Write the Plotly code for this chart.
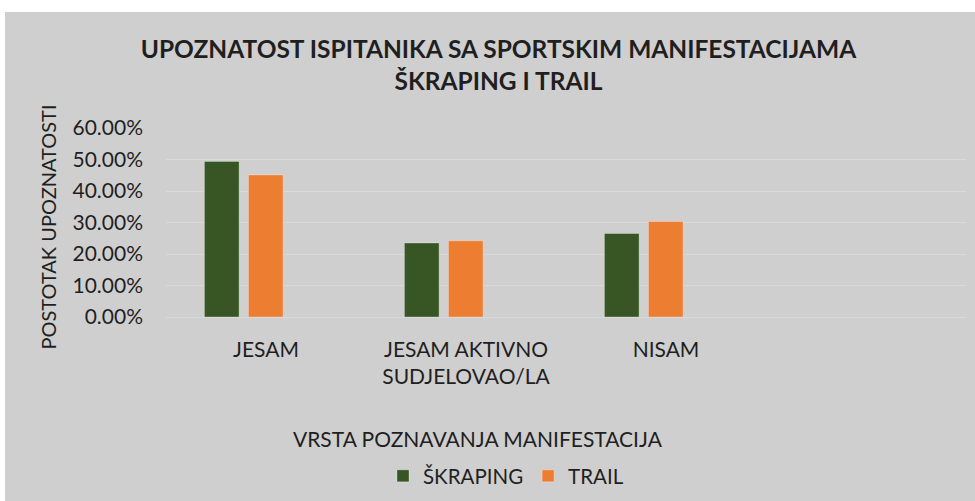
import plotly.graph_objects as go

# ---- data ----
categories = ["JESAM", "JESAM AKTIVNO<br>SUDJELOVAO/LA", "NISAM"]
series_names = ["ŠKRAPING", "TRAIL"]
skraping = [0.494, 0.235, 0.265]
trail = [0.451, 0.242, 0.303]
y_ticks = [0, 0.1, 0.2, 0.3, 0.4, 0.5, 0.6]

title_text = "UPOZNATOST ISPITANIKA SA SPORTSKIM MANIFESTACIJAMA<br>ŠKRAPING I TRAIL"
x_title = "VRSTA POZNAVANJA MANIFESTACIJA"
y_title = "POSTOTAK UPOZNATOSTI"

# ---- layout geometry ----
W, H = 975, 501
L, R, T, B = 166, 9, 128, 184
PW, PH = W - L - R, H - T - B

def px_x(x):
    return (x - L) / PW

def px_y(y):
    return (H - B - y) / PH

BG = "#D0CFD0"
GRID = "#DAD9DA"
GREEN = "#385623"
ORANGE = "#ED7D31"
TXT = "#1F1F1F"
FONT = "Lato"

fig = go.Figure()
fig.add_trace(go.Bar(
    name=series_names[0], x=categories, y=skraping,
    marker=dict(color=GREEN, line=dict(color="rgba(255,255,255,0.3)", width=1)),
    width=0.1735, offset=-0.308,
))
fig.add_trace(go.Bar(
    name=series_names[1], x=categories, y=trail,
    marker=dict(color=ORANGE, line=dict(color="rgba(255,255,255,0.3)", width=1)),
    width=0.1735, offset=-0.088,
))

fig.update_layout(
    width=W, height=H,
    margin=dict(l=L, r=R, t=T, b=B, pad=0, autoexpand=False),
    paper_bgcolor="white",
    plot_bgcolor=BG,
    font=dict(family=FONT, size=21, color=TXT),
    title=dict(
        text="<b>" + title_text + "</b>",
        font=dict(family=FONT, size=24.5, color=TXT),
        x=498.5 / W, xanchor="center", xref="container",
        y=1 - 58 / H, yanchor="top", yref="container",
    ),
    barmode="overlay",
    showlegend=True,
    legend=dict(
        orientation="h",
        x=px_x(506), xanchor="center",
        y=px_y(476), yanchor="middle",
        font=dict(family=FONT, size=20.5, color=TXT),
        bgcolor="rgba(0,0,0,0)",
        itemwidth=30,
    ),
    xaxis=dict(
        type="category", automargin=False,
        categoryorder="array", categoryarray=categories,
        range=[-0.5, 3.5],
        showgrid=False, showline=False, zeroline=False,
        ticks="", ticklabelstandoff=18,
        tickfont=dict(family=FONT, size=21, color=TXT),
    ),
    yaxis=dict(
        range=[0, 0.6], automargin=False,
        tickvals=y_ticks,
        tickformat=".2%",
        showgrid=True, gridcolor=GRID, gridwidth=1,
        zeroline=True, zerolinecolor=GRID, zerolinewidth=1,
        showline=False, ticks="", ticklabelstandoff=22,
        tickfont=dict(family=FONT, size=21, color=TXT),
    ),
    shapes=[dict(
        type="rect", xref="paper", yref="paper", layer="below",
        x0=px_x(5), x1=px_x(1000), y0=px_y(530), y1=px_y(12),
        fillcolor=BG, line=dict(width=0),
    )],
    annotations=[
        dict(text=x_title, xref="paper", yref="paper",
             x=px_x(478.3), y=px_y(438), xanchor="center", yanchor="middle",
             showarrow=False, font=dict(family=FONT, size=21, color=TXT)),
        dict(text=y_title, xref="paper", yref="paper", textangle=-90,
             x=px_x(47), y=px_y(227.5), xanchor="center", yanchor="middle",
             showarrow=False, font=dict(family=FONT, size=20, color=TXT)),
    ],
)

fig.write_html(
    "out.html",
    config={"displayModeBar": False},
    post_script="document.body.style.margin='0';document.body.style.overflow='hidden';",
)
